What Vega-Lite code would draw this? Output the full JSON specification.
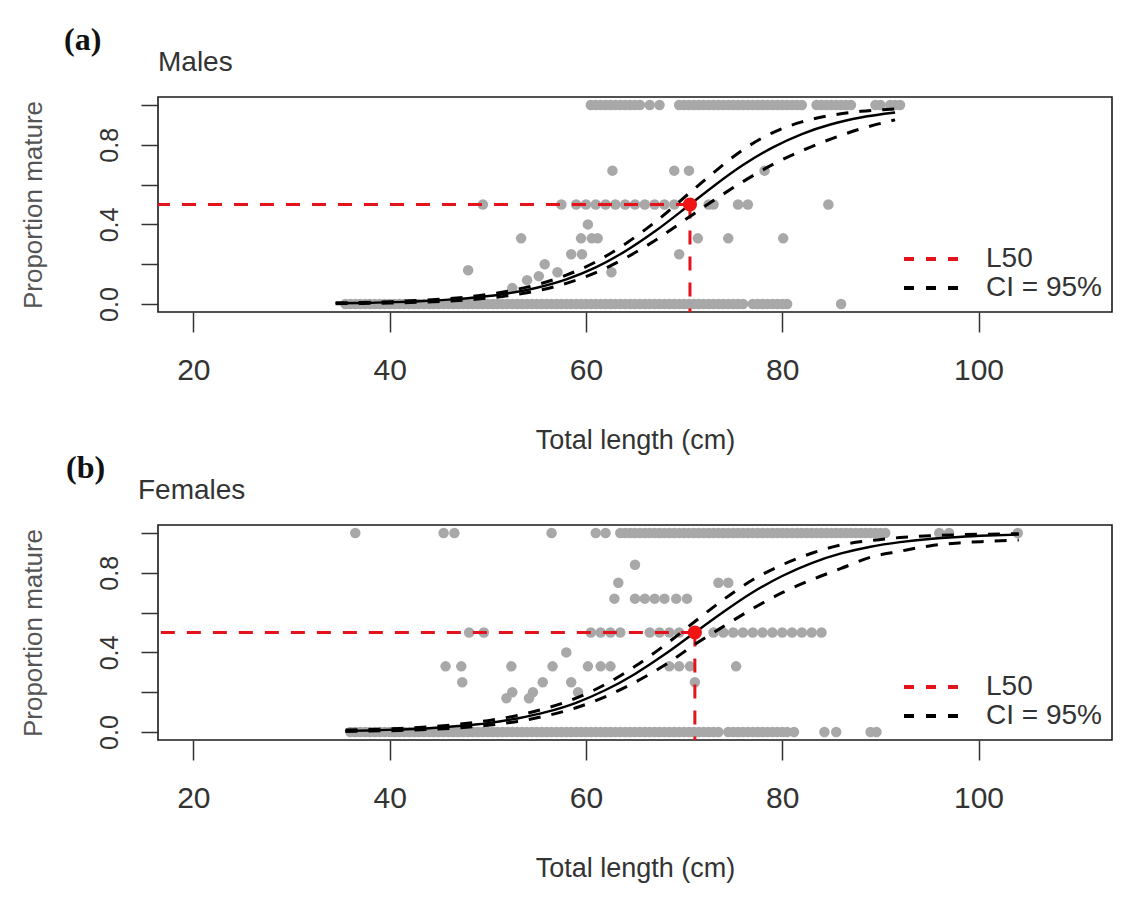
{
 "$schema": "https://vega.github.io/schema/vega-lite/v6.json",
 "background": "white",
 "padding": {"left": 19, "top": 24, "right": 25, "bottom": 10},
 "spacing": -2,
 "resolve": {"scale": {"color": "independent"}},
 "config": {
  "view": {"stroke": "#1a1a1a", "strokeWidth": 1.6},
  "axis": {"grid": false, "domain": false, "tickColor": "#333333", "tickWidth": 1.5, "labelColor": "#333333", "titleColor": "#333333", "labelFont": "Liberation Sans", "titleFont": "Liberation Sans", "titleFontWeight": "normal"},
  "legend": {"orient": "bottom-right", "title": null, "symbolType": "stroke", "symbolStrokeWidth": 4, "symbolDash": [10, 12], "symbolSize": 2916, "labelFontSize": 28, "labelFont": "Liberation Sans", "labelColor": "#333333", "clipHeight": 26, "rowPadding": 1, "labelOffset": 26, "offset": 10, "padding": 0},
  "title": {"anchor": "start", "frame": "group"}
 },
 "datasets": {
  "m_pts": [
   {"L":35.5,"p":0},{"L":36,"p":0},{"L":36.5,"p":0},{"L":37,"p":0},{"L":37.5,"p":0},{"L":38,"p":0},{"L":38.5,"p":0},{"L":39,"p":0},{"L":39.5,"p":0},{"L":40,"p":0},{"L":40.5,"p":0},{"L":41,"p":0},{"L":41.5,"p":0},{"L":42,"p":0},{"L":42.5,"p":0},{"L":43,"p":0},{"L":43.5,"p":0},{"L":44,"p":0},{"L":44.5,"p":0},{"L":45,"p":0},{"L":45.5,"p":0},{"L":46,"p":0},{"L":46.5,"p":0},{"L":47,"p":0},{"L":47.5,"p":0},{"L":48,"p":0},{"L":48.5,"p":0},{"L":49,"p":0},{"L":49.5,"p":0},{"L":50,"p":0},{"L":50.5,"p":0},{"L":51,"p":0},{"L":51.5,"p":0},{"L":52,"p":0},{"L":52.5,"p":0},{"L":53,"p":0},{"L":53.5,"p":0},{"L":54,"p":0},{"L":54.5,"p":0},{"L":55,"p":0},{"L":55.5,"p":0},{"L":56,"p":0},{"L":56.5,"p":0},{"L":57,"p":0},{"L":57.5,"p":0},{"L":58,"p":0},{"L":58.5,"p":0},{"L":59,"p":0},{"L":59.5,"p":0},{"L":60,"p":0},{"L":60.5,"p":0},{"L":61,"p":0},{"L":61.5,"p":0},{"L":62,"p":0},{"L":62.5,"p":0},{"L":63,"p":0},{"L":63.5,"p":0},{"L":64,"p":0},{"L":64.5,"p":0},{"L":65,"p":0},{"L":65.5,"p":0},{"L":66,"p":0},{"L":66.5,"p":0},{"L":67,"p":0},{"L":67.5,"p":0},{"L":68,"p":0},{"L":68.5,"p":0},{"L":69,"p":0},{"L":69.5,"p":0},{"L":70,"p":0},{"L":70.5,"p":0},{"L":71,"p":0},{"L":71.5,"p":0},{"L":72,"p":0},{"L":72.5,"p":0},{"L":73,"p":0},{"L":73.5,"p":0},{"L":74,"p":0},{"L":74.5,"p":0},{"L":75,"p":0},{"L":75.5,"p":0},{"L":76,"p":0},{"L":77,"p":0},{"L":77.5,"p":0},{"L":78,"p":0},{"L":78.5,"p":0},{"L":79,"p":0},{"L":79.5,"p":0},{"L":80,"p":0},{"L":80.5,"p":0},{"L":86,"p":0},
   {"L":60.5,"p":1},{"L":61,"p":1},{"L":61.5,"p":1},{"L":62,"p":1},{"L":62.5,"p":1},{"L":63,"p":1},{"L":63.5,"p":1},{"L":64,"p":1},{"L":64.5,"p":1},{"L":65,"p":1},{"L":65.5,"p":1},{"L":66.5,"p":1},{"L":67.5,"p":1},{"L":69.5,"p":1},{"L":70,"p":1},{"L":70.5,"p":1},{"L":71,"p":1},{"L":71.5,"p":1},{"L":72,"p":1},{"L":72.5,"p":1},{"L":73,"p":1},{"L":73.5,"p":1},{"L":74,"p":1},{"L":74.5,"p":1},{"L":75,"p":1},{"L":75.5,"p":1},{"L":76,"p":1},{"L":76.5,"p":1},{"L":77,"p":1},{"L":77.5,"p":1},{"L":78,"p":1},{"L":78.5,"p":1},{"L":79,"p":1},{"L":79.5,"p":1},{"L":80,"p":1},{"L":80.5,"p":1},{"L":81,"p":1},{"L":81.5,"p":1},{"L":82,"p":1},{"L":83.5,"p":1},{"L":84,"p":1},{"L":84.5,"p":1},{"L":85,"p":1},{"L":85.5,"p":1},{"L":86,"p":1},{"L":86.5,"p":1},{"L":87,"p":1},{"L":89.5,"p":1},{"L":90,"p":1},{"L":91,"p":1},{"L":91.5,"p":1},{"L":92,"p":1},
   {"L":62.7,"p":0.67},{"L":69,"p":0.67},{"L":70.5,"p":0.67},{"L":78.2,"p":0.67},
   {"L":49.5,"p":0.5},{"L":57.5,"p":0.5},{"L":59,"p":0.5},{"L":60,"p":0.5},{"L":61,"p":0.5},{"L":62,"p":0.5},{"L":63,"p":0.5},{"L":64,"p":0.5},{"L":65,"p":0.5},{"L":66,"p":0.5},{"L":67,"p":0.5},{"L":68,"p":0.5},{"L":69,"p":0.5},{"L":72.5,"p":0.5},{"L":73,"p":0.5},{"L":75.5,"p":0.5},{"L":76.5,"p":0.5},{"L":84.7,"p":0.5},
   {"L":60.2,"p":0.4},
   {"L":53.4,"p":0.33},{"L":59.5,"p":0.33},{"L":60.6,"p":0.33},{"L":61.2,"p":0.33},{"L":71.4,"p":0.33},{"L":74.5,"p":0.33},{"L":80.1,"p":0.33},
   {"L":58.5,"p":0.25},{"L":59.6,"p":0.25},{"L":69.5,"p":0.25},
   {"L":55.8,"p":0.2},
   {"L":48,"p":0.17},{"L":57.1,"p":0.16},{"L":62.6,"p":0.16},
   {"L":54,"p":0.12},{"L":55.2,"p":0.14},{"L":52.5,"p":0.08}
  ],
  "m_fit": [
   {"L":34.5,"lo":0.002,"fit":0.004,"hi":0.006},
   {"L":37,"lo":0.003,"fit":0.005,"hi":0.008},
   {"L":40,"lo":0.005,"fit":0.009,"hi":0.012},
   {"L":43,"lo":0.009,"fit":0.014,"hi":0.018},
   {"L":46,"lo":0.015,"fit":0.022,"hi":0.027},
   {"L":49,"lo":0.025,"fit":0.034,"hi":0.042},
   {"L":52,"lo":0.041,"fit":0.053,"hi":0.064},
   {"L":55,"lo":0.066,"fit":0.082,"hi":0.097},
   {"L":58,"lo":0.104,"fit":0.124,"hi":0.145},
   {"L":61,"lo":0.158,"fit":0.184,"hi":0.212},
   {"L":64,"lo":0.23,"fit":0.265,"hi":0.302},
   {"L":67,"lo":0.318,"fit":0.364,"hi":0.41},
   {"L":70.6,"lo":0.44,"fit":0.5,"hi":0.56},
   {"L":73,"lo":0.52,"fit":0.592,"hi":0.66},
   {"L":76,"lo":0.615,"fit":0.698,"hi":0.775},
   {"L":79,"lo":0.7,"fit":0.786,"hi":0.86},
   {"L":82,"lo":0.77,"fit":0.854,"hi":0.915},
   {"L":85,"lo":0.83,"fit":0.903,"hi":0.948},
   {"L":88,"lo":0.88,"fit":0.937,"hi":0.968},
   {"L":91.5,"lo":0.925,"fit":0.962,"hi":0.98}
  ],
  "m_l50": [{"L50":70.6,"p":0.5}],
  "f_pts": [
   {"L":36,"p":0},{"L":36.5,"p":0},{"L":37,"p":0},{"L":37.5,"p":0},{"L":38,"p":0},{"L":38.5,"p":0},{"L":39,"p":0},{"L":39.5,"p":0},{"L":40,"p":0},{"L":40.5,"p":0},{"L":41,"p":0},{"L":41.5,"p":0},{"L":42,"p":0},{"L":42.5,"p":0},{"L":43,"p":0},{"L":43.5,"p":0},{"L":44,"p":0},{"L":44.5,"p":0},{"L":45,"p":0},{"L":45.5,"p":0},{"L":46,"p":0},{"L":46.5,"p":0},{"L":47,"p":0},{"L":47.5,"p":0},{"L":48,"p":0},{"L":48.5,"p":0},{"L":49,"p":0},{"L":49.5,"p":0},{"L":50,"p":0},{"L":50.5,"p":0},{"L":51,"p":0},{"L":51.5,"p":0},{"L":52,"p":0},{"L":52.5,"p":0},{"L":53,"p":0},{"L":53.5,"p":0},{"L":54,"p":0},{"L":54.5,"p":0},{"L":55,"p":0},{"L":55.5,"p":0},{"L":56,"p":0},{"L":56.5,"p":0},{"L":57,"p":0},{"L":57.5,"p":0},{"L":58,"p":0},{"L":58.5,"p":0},{"L":59,"p":0},{"L":59.5,"p":0},{"L":60,"p":0},{"L":60.5,"p":0},{"L":61,"p":0},{"L":61.5,"p":0},{"L":62,"p":0},{"L":62.5,"p":0},{"L":63,"p":0},{"L":63.5,"p":0},{"L":64,"p":0},{"L":64.5,"p":0},{"L":65,"p":0},{"L":65.5,"p":0},{"L":66,"p":0},{"L":66.5,"p":0},{"L":67,"p":0},{"L":67.5,"p":0},{"L":68,"p":0},{"L":68.5,"p":0},{"L":69,"p":0},{"L":69.5,"p":0},{"L":70,"p":0},{"L":70.5,"p":0},{"L":71,"p":0},{"L":71.5,"p":0},{"L":72,"p":0},{"L":72.5,"p":0},{"L":73,"p":0},{"L":73.5,"p":0},{"L":74.5,"p":0},{"L":75,"p":0},{"L":75.5,"p":0},{"L":76,"p":0},{"L":76.5,"p":0},{"L":77,"p":0},{"L":77.5,"p":0},{"L":78,"p":0},{"L":78.5,"p":0},{"L":79,"p":0},{"L":79.5,"p":0},{"L":80,"p":0},{"L":80.5,"p":0},{"L":81.2,"p":0},{"L":84.3,"p":0},{"L":85.5,"p":0},{"L":89,"p":0},{"L":89.6,"p":0},
   {"L":36.5,"p":1},{"L":45.5,"p":1},{"L":46.6,"p":1},{"L":56.5,"p":1},{"L":61,"p":1},{"L":62,"p":1},{"L":63.5,"p":1},{"L":64,"p":1},{"L":64.5,"p":1},{"L":65,"p":1},{"L":65.5,"p":1},{"L":66,"p":1},{"L":66.5,"p":1},{"L":67,"p":1},{"L":67.5,"p":1},{"L":68,"p":1},{"L":68.5,"p":1},{"L":69,"p":1},{"L":69.5,"p":1},{"L":70,"p":1},{"L":70.5,"p":1},{"L":71,"p":1},{"L":71.5,"p":1},{"L":72,"p":1},{"L":72.5,"p":1},{"L":73,"p":1},{"L":73.5,"p":1},{"L":74,"p":1},{"L":74.5,"p":1},{"L":75,"p":1},{"L":75.5,"p":1},{"L":76,"p":1},{"L":76.5,"p":1},{"L":77,"p":1},{"L":77.5,"p":1},{"L":78,"p":1},{"L":78.5,"p":1},{"L":79,"p":1},{"L":79.5,"p":1},{"L":80,"p":1},{"L":80.5,"p":1},{"L":81,"p":1},{"L":81.5,"p":1},{"L":82,"p":1},{"L":82.5,"p":1},{"L":83,"p":1},{"L":83.5,"p":1},{"L":84,"p":1},{"L":84.5,"p":1},{"L":85,"p":1},{"L":85.5,"p":1},{"L":86,"p":1},{"L":86.5,"p":1},{"L":87,"p":1},{"L":87.5,"p":1},{"L":88,"p":1},{"L":88.5,"p":1},{"L":89,"p":1},{"L":89.5,"p":1},{"L":90,"p":1},{"L":90.5,"p":1},{"L":96,"p":1},{"L":97,"p":1},{"L":104,"p":1},
   {"L":65,"p":0.84},
   {"L":63.3,"p":0.75},{"L":73.5,"p":0.75},{"L":74.5,"p":0.75},
   {"L":62.9,"p":0.67},{"L":65,"p":0.67},{"L":66,"p":0.67},{"L":67,"p":0.67},{"L":68,"p":0.67},{"L":69.2,"p":0.67},{"L":70.3,"p":0.67},
   {"L":48.1,"p":0.5},{"L":49.6,"p":0.5},{"L":60.5,"p":0.5},{"L":61.5,"p":0.5},{"L":62.5,"p":0.5},{"L":63.5,"p":0.5},{"L":66.5,"p":0.5},{"L":67.5,"p":0.5},{"L":68.5,"p":0.5},{"L":69.5,"p":0.5},{"L":73,"p":0.5},{"L":74,"p":0.5},{"L":75,"p":0.5},{"L":76,"p":0.5},{"L":77,"p":0.5},{"L":78,"p":0.5},{"L":79,"p":0.5},{"L":80,"p":0.5},{"L":81,"p":0.5},{"L":82,"p":0.5},{"L":83,"p":0.5},{"L":84,"p":0.5},
   {"L":58,"p":0.4},
   {"L":45.7,"p":0.33},{"L":47.3,"p":0.33},{"L":52.4,"p":0.33},{"L":56.6,"p":0.33},{"L":60.2,"p":0.33},{"L":61.5,"p":0.33},{"L":62.5,"p":0.33},{"L":68.5,"p":0.33},{"L":69.5,"p":0.33},{"L":70.6,"p":0.33},{"L":75.3,"p":0.33},
   {"L":47.4,"p":0.25},{"L":55.6,"p":0.25},{"L":58.5,"p":0.25},{"L":71.1,"p":0.25},
   {"L":52.5,"p":0.2},{"L":54.6,"p":0.2},{"L":59.2,"p":0.2},
   {"L":51.9,"p":0.17},{"L":54.2,"p":0.17}
  ],
  "f_fit": [
   {"L":35.5,"lo":0.003,"fit":0.006,"hi":0.01},
   {"L":38,"lo":0.005,"fit":0.008,"hi":0.013},
   {"L":41,"lo":0.008,"fit":0.013,"hi":0.018},
   {"L":44,"lo":0.013,"fit":0.019,"hi":0.026},
   {"L":47,"lo":0.021,"fit":0.03,"hi":0.039},
   {"L":50,"lo":0.034,"fit":0.045,"hi":0.057},
   {"L":53,"lo":0.053,"fit":0.068,"hi":0.083},
   {"L":56,"lo":0.082,"fit":0.101,"hi":0.12},
   {"L":59,"lo":0.122,"fit":0.147,"hi":0.17},
   {"L":62,"lo":0.178,"fit":0.211,"hi":0.24},
   {"L":65,"lo":0.25,"fit":0.292,"hi":0.33},
   {"L":68,"lo":0.335,"fit":0.389,"hi":0.435},
   {"L":71.1,"lo":0.44,"fit":0.5,"hi":0.555},
   {"L":74,"lo":0.53,"fit":0.603,"hi":0.665},
   {"L":77,"lo":0.62,"fit":0.702,"hi":0.765},
   {"L":80,"lo":0.7,"fit":0.784,"hi":0.84},
   {"L":83,"lo":0.765,"fit":0.849,"hi":0.898},
   {"L":86,"lo":0.822,"fit":0.897,"hi":0.94},
   {"L":89,"lo":0.878,"fit":0.931,"hi":0.962},
   {"L":92,"lo":0.908,"fit":0.954,"hi":0.977},
   {"L":95,"lo":0.935,"fit":0.97,"hi":0.986},
   {"L":98,"lo":0.95,"fit":0.98,"hi":0.991},
   {"L":101,"lo":0.958,"fit":0.987,"hi":0.994},
   {"L":104.1,"lo":0.965,"fit":0.992,"hi":0.996}
  ],
  "f_l50": [{"L50":71.1,"p":0.5}]
 },
 "vconcat": [
  {
   "title": {"text": "(a)", "dx": -94, "offset": -9, "font": "Liberation Serif", "fontSize": 32, "fontWeight": "bold", "color": "#111111"},
   "resolve": {"scale": {"color": "independent"}},
   "vconcat": [
    {
     "width": 954,
     "height": 215,
     "title": {"text": "Males", "offset": 20, "font": "Liberation Sans", "fontSize": 28, "fontWeight": "normal", "color": "#333333"},
     "layer": [
      {
       "data": {"name": "m_pts"},
       "mark": {"type": "circle", "size": 110, "color": "#a8a8a8", "opacity": 1},
       "encoding": {
        "x": {"field": "L", "type": "quantitative", "scale": {"domain": [16.4, 113.6], "nice": false, "zero": false},
              "axis": {"values": [20, 40, 60, 80, 100], "tickSize": 20, "labelFontSize": 30, "labelPadding": 23, "labelFlush": false, "title": "Total length (cm)", "titleFontSize": 27, "titlePadding": 42}},
        "y": {"field": "p", "type": "quantitative", "scale": {"domain": [-0.04, 1.04], "nice": false, "zero": false},
              "axis": {"values": [0, 0.2, 0.4, 0.6, 0.8, 1], "labelExpr": "datum.value == 0 || datum.value == 0.4 || datum.value == 0.8 ? format(datum.value, '.1f') : ''", "labelAngle": -90, "labelAlign": "center", "labelBaseline": "bottom", "labelFontSize": 25, "labelPadding": 19, "tickSize": 17, "title": "Proportion mature", "titleFontSize": 26, "titlePadding": 51, "titleColor": "#555555"}}
       }
      },
      {
       "data": {"name": "m_l50"},
       "mark": {"type": "rule", "strokeWidth": 3, "strokeDash": [14, 12], "clip": true},
       "encoding": {
        "x": {"field": "L50", "type": "quantitative"},
        "x2": {"datum": 0},
        "y": {"field": "p", "type": "quantitative"},
        "color": {"datum": "L50", "type": "nominal", "scale": {"domain": ["L50", "CI = 95%"], "range": ["#e3121b", "#000000"]}}
       }
      },
      {
       "data": {"name": "m_l50"},
       "mark": {"type": "rule", "strokeWidth": 3, "strokeDash": [14, 12], "clip": true},
       "encoding": {
        "x": {"field": "L50", "type": "quantitative"},
        "y": {"field": "p", "type": "quantitative"},
        "y2": {"datum": -1},
        "color": {"datum": "L50", "type": "nominal"}
       }
      },
      {
       "data": {"name": "m_fit"},
       "mark": {"type": "line", "strokeWidth": 3, "strokeDash": [12, 11], "interpolate": "monotone"},
       "encoding": {
        "x": {"field": "L", "type": "quantitative"},
        "y": {"field": "lo", "type": "quantitative"},
        "color": {"datum": "CI = 95%", "type": "nominal"}
       }
      },
      {
       "data": {"name": "m_fit"},
       "mark": {"type": "line", "strokeWidth": 3, "strokeDash": [12, 11], "interpolate": "monotone"},
       "encoding": {
        "x": {"field": "L", "type": "quantitative"},
        "y": {"field": "hi", "type": "quantitative"},
        "color": {"datum": "CI = 95%", "type": "nominal"}
       }
      },
      {
       "data": {"name": "m_fit"},
       "mark": {"type": "line", "strokeWidth": 2.4, "color": "#000000", "interpolate": "monotone"},
       "encoding": {
        "x": {"field": "L", "type": "quantitative"},
        "y": {"field": "fit", "type": "quantitative"}
       }
      },
      {
       "data": {"name": "m_l50"},
       "mark": {"type": "circle", "size": 200, "color": "#f01414", "opacity": 1},
       "encoding": {
        "x": {"field": "L50", "type": "quantitative"},
        "y": {"field": "p", "type": "quantitative"}
       }
      }
     ]
    }
   ]
  },
  {
   "title": {"text": "(b)", "dx": -92, "offset": -9, "font": "Liberation Serif", "fontSize": 32, "fontWeight": "bold", "color": "#111111"},
   "resolve": {"scale": {"color": "independent"}},
   "vconcat": [
    {
     "width": 954,
     "height": 215,
     "title": {"text": "Females", "dx": -20, "offset": 20, "font": "Liberation Sans", "fontSize": 28, "fontWeight": "normal", "color": "#333333"},
     "layer": [
      {
       "data": {"name": "f_pts"},
       "mark": {"type": "circle", "size": 110, "color": "#a8a8a8", "opacity": 1},
       "encoding": {
        "x": {"field": "L", "type": "quantitative", "scale": {"domain": [16.4, 113.6], "nice": false, "zero": false},
              "axis": {"values": [20, 40, 60, 80, 100], "tickSize": 20, "labelFontSize": 30, "labelPadding": 23, "labelFlush": false, "title": "Total length (cm)", "titleFontSize": 27, "titlePadding": 42}},
        "y": {"field": "p", "type": "quantitative", "scale": {"domain": [-0.04, 1.04], "nice": false, "zero": false},
              "axis": {"values": [0, 0.2, 0.4, 0.6, 0.8, 1], "labelExpr": "datum.value == 0 || datum.value == 0.4 || datum.value == 0.8 ? format(datum.value, '.1f') : ''", "labelAngle": -90, "labelAlign": "center", "labelBaseline": "bottom", "labelFontSize": 25, "labelPadding": 19, "tickSize": 17, "title": "Proportion mature", "titleFontSize": 26, "titlePadding": 51, "titleColor": "#555555"}}
       }
      },
      {
       "data": {"name": "f_l50"},
       "mark": {"type": "rule", "strokeWidth": 3, "strokeDash": [14, 12], "clip": true},
       "encoding": {
        "x": {"field": "L50", "type": "quantitative"},
        "x2": {"datum": 0},
        "y": {"field": "p", "type": "quantitative"},
        "color": {"datum": "L50", "type": "nominal", "scale": {"domain": ["L50", "CI = 95%"], "range": ["#e3121b", "#000000"]}}
       }
      },
      {
       "data": {"name": "f_l50"},
       "mark": {"type": "rule", "strokeWidth": 3, "strokeDash": [14, 12], "clip": true},
       "encoding": {
        "x": {"field": "L50", "type": "quantitative"},
        "y": {"field": "p", "type": "quantitative"},
        "y2": {"datum": -1},
        "color": {"datum": "L50", "type": "nominal"}
       }
      },
      {
       "data": {"name": "f_fit"},
       "mark": {"type": "line", "strokeWidth": 3, "strokeDash": [12, 11], "interpolate": "monotone"},
       "encoding": {
        "x": {"field": "L", "type": "quantitative"},
        "y": {"field": "lo", "type": "quantitative"},
        "color": {"datum": "CI = 95%", "type": "nominal"}
       }
      },
      {
       "data": {"name": "f_fit"},
       "mark": {"type": "line", "strokeWidth": 3, "strokeDash": [12, 11], "interpolate": "monotone"},
       "encoding": {
        "x": {"field": "L", "type": "quantitative"},
        "y": {"field": "hi", "type": "quantitative"},
        "color": {"datum": "CI = 95%", "type": "nominal"}
       }
      },
      {
       "data": {"name": "f_fit"},
       "mark": {"type": "line", "strokeWidth": 2.4, "color": "#000000", "interpolate": "monotone"},
       "encoding": {
        "x": {"field": "L", "type": "quantitative"},
        "y": {"field": "fit", "type": "quantitative"}
       }
      },
      {
       "data": {"name": "f_l50"},
       "mark": {"type": "circle", "size": 200, "color": "#f01414", "opacity": 1},
       "encoding": {
        "x": {"field": "L50", "type": "quantitative"},
        "y": {"field": "p", "type": "quantitative"}
       }
      }
     ]
    }
   ]
  }
 ]
}
